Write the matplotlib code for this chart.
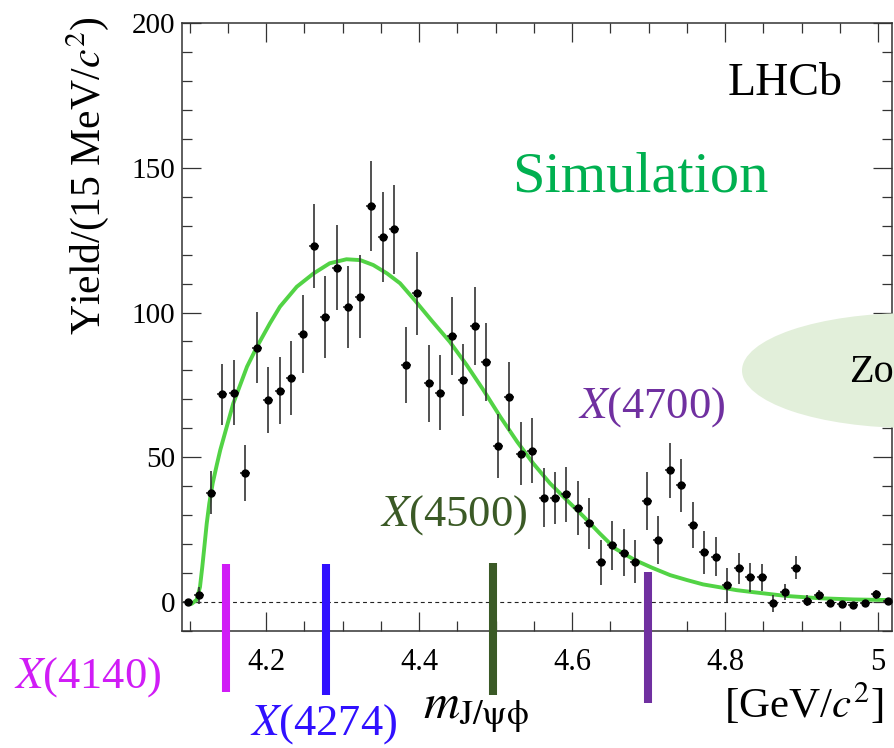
import numpy as np
import matplotlib
matplotlib.use("Agg")
import matplotlib.pyplot as plt
from matplotlib.patches import Ellipse
from matplotlib.ticker import FixedLocator, MultipleLocator, FixedFormatter

plt.rcParams['font.family'] = ['Liberation Serif', 'DejaVu Serif']
plt.rcParams['mathtext.fontset'] = 'stix'

# ---------------- data ----------------
bin_start = 4.0975
bin_width = 0.015
yield_vals = [0.0, 2.3, 37.8, 71.7, 72.3, 44.6, 87.9, 69.7, 73.0, 77.4,
              92.5, 122.9, 98.4, 115.5, 102.0, 105.5, 136.9, 126.1, 128.7, 81.9,
              106.6, 75.5, 72.3, 92.0, 76.6, 95.3, 83.0, 53.8, 70.9, 51.3,
              52.3, 36.0, 36.0, 37.2, 32.4, 27.2, 13.7, 19.6, 17.0, 13.9,
              34.9, 21.4, 45.5, 40.3, 26.6, 17.2, 15.7, 5.9, 11.6, 8.5,
              8.5, -0.5, 3.5, 11.9, 0.5, 2.4, -0.5, -0.7, -0.9, -0.2,
              2.7, 0.5]
yield_errs = [1.0, 2.9, 7.3, 10.4, 11.2, 9.6, 12.3, 11.4, 11.6, 12.7,
              13.4, 14.6, 14.2, 14.8, 14.2, 14.3, 15.6, 15.6, 15.4, 13.2,
              14.4, 13.4, 13.0, 13.5, 12.4, 13.4, 13.4, 11.1, 11.9, 11.0,
              11.1, 10.2, 9.0, 9.6, 9.4, 8.8, 7.8, 8.4, 8.1, 7.4,
              10.1, 8.2, 9.5, 9.1, 7.9, 7.5, 6.8, 5.8, 5.4, 4.9,
              4.7, 2.9, 2.9, 4.1, 2.0, 1.7, 1.0, 1.0, 1.0, 1.0,
              1.5, 1.0]

curve_x = [4.097, 4.1027, 4.1092, 4.1135, 4.1165, 4.1192, 4.1223, 4.1257, 4.1301,
           4.1354, 4.140, 4.157, 4.175, 4.188, 4.205, 4.218, 4.240, 4.262, 4.283,
           4.305, 4.323, 4.340, 4.358, 4.375, 4.395, 4.417, 4.440, 4.462, 4.484,
           4.506, 4.528, 4.549, 4.571, 4.593, 4.615, 4.636, 4.656, 4.682, 4.704,
           4.728, 4.750, 4.771, 4.793, 4.815, 4.837, 4.880, 4.924, 4.968, 5.011]
curve_y = [-0.6, -0.6, 0.8, 5.2, 12.1, 19.0, 27.1, 34.1, 41.0,
           47.3, 52.5, 68.6, 81.3, 88.2, 96.3, 102.0, 108.9, 113.5, 117.0,
           118.4, 118.1, 116.4, 113.5, 110.1, 104.0, 97.0, 89.9, 81.9, 73.2,
           64.0, 55.4, 47.9, 41.0, 35.2, 29.5, 23.7, 18.5, 14.5, 11.9,
           9.3, 7.6, 6.1, 5.1, 4.1, 3.4, 2.1, 1.3, 0.9, 0.7]

state_labels = ["$X$(4140)", "$X$(4274)", "$X$(4500)", "$X$(4700)"]
state_mass = [4.1475, 4.278, 4.497, 4.699]
state_bar_top = [13.0, 13.0, 13.5, 10.5]
state_bar_bottom = [-31.0, -32.0, -32.0, -35.0]
state_colors = ['#d01cf6', '#3010ff', '#3b5a26', '#7030a0']

x_major = [4.2, 4.4, 4.6, 4.8, 5.0]
x_major_labels = ["4.2", "4.4", "4.6", "4.8", "5"]
y_major = [0, 50, 100, 150, 200]
y_major_labels = ["0", "50", "100", "150", "200"]

# ---------------- figure ----------------
W, H = 894, 748
fig = plt.figure(figsize=(W / 100, H / 100), dpi=100)

def fx(px):
    return px / W

def fy(py):
    return 1 - py / H

ax = fig.add_axes([fx(182), fy(631), fx(892) - fx(182), fy(23) - fy(631)])
ax.set_xlim(4.09, 5.018)
ax.set_ylim(-10, 200)

xc = bin_start + bin_width * np.arange(len(yield_vals))

ax.axhline(0, color='#222222', lw=0.8, ls=(0, (3.5, 3)), zorder=1)
ax.plot(curve_x, curve_y, color='#52d345', lw=2.8, zorder=2, solid_capstyle='round')
ax.errorbar(xc, yield_vals, yerr=yield_errs, xerr=0.0065, fmt='o', color='black',
            ecolor='#333333', elinewidth=1.2, capsize=0, markersize=5, zorder=3)

for m, t, b, c in zip(state_mass, state_bar_top, state_bar_bottom, state_colors):
    ax.plot([m, m], [b, t], color=c, lw=5.8, solid_capstyle='butt', clip_on=False, zorder=4)

# ticks
ax.xaxis.set_major_locator(FixedLocator(x_major))
ax.xaxis.set_major_formatter(FixedFormatter(x_major_labels))
ax.xaxis.set_minor_locator(MultipleLocator(0.05))
ax.yaxis.set_major_locator(FixedLocator(y_major))
ax.yaxis.set_major_formatter(FixedFormatter(y_major_labels))
ax.yaxis.set_minor_locator(MultipleLocator(10))
ax.tick_params(which='both', direction='in', top=True, right=True, width=0.9, color='#333333')
ax.tick_params(which='major', length=14)
ax.tick_params(which='minor', length=7)
ax.tick_params(axis='x', which='major', labelsize=22, pad=12)
ax.tick_params(axis='y', which='major', labelsize=21, pad=5)
for s in ax.spines.values():
    s.set_linewidth(1.1)
    s.set_color('#333333')

# axis labels
fig.text(fx(88), fy(16), r"Yield/(15 MeV/$c^{2}$)", rotation=90, ha='center', va='top',
         fontsize=30)
fig.text(fx(423), fy(718), r"$m_{\mathrm{J/\psi\phi}}$", ha='left', va='baseline', fontsize=36)
fig.text(fx(724), fy(718), r"[GeV/$c^{2}$]", ha='left', va='baseline', fontsize=31)

# texts
fig.text(fx(728), fy(95), "LHCb", ha='left', va='baseline', fontsize=33)
fig.text(fx(512), fy(192), "Simulation", ha='left', va='baseline', fontsize=42, color='#00b050')

label_pos = [(88, 677), (324, 724), (454, 515), (652, 407)]
for lab, (px, py), c in zip(state_labels, label_pos, state_colors):
    fig.text(fx(px), fy(py), lab, ha='center', va='center', fontsize=32, color=c)

# zoom ellipse
ell = Ellipse((fx(912), fy(370.5)), 340 / W, 115 / H, transform=fig.transFigure,
              facecolor='#e2efda', edgecolor='none', zorder=5)
fig.patches.append(ell)
fig.text(fx(849), fy(372), "Zo", ha='left', va='center', fontsize=29, zorder=6)

fig.savefig("out.png", dpi=100)
